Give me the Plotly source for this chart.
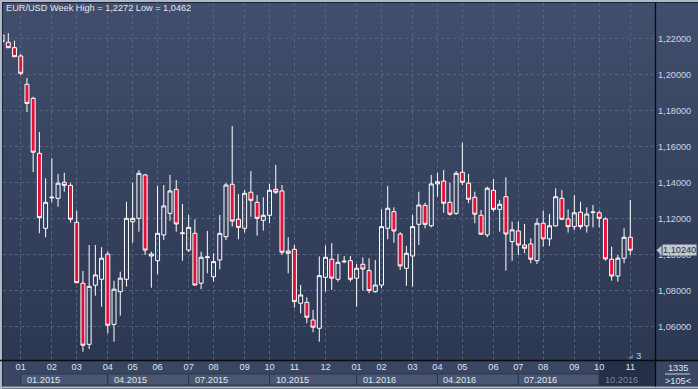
import plotly.graph_objects as go

# ---------------- data ----------------
title_text = "EUR/USD Week High = 1,2272 Low = 1,0462"

week_index = list(range(102))
opens = [1.2218, 1.2178, 1.2148, 1.2102, 1.1945, 1.1867, 1.1562, 1.1146, 1.1315, 1.1312,
         1.1401, 1.1384, 1.1179, 1.0841, 1.0502, 1.0830, 1.0863, 1.1002, 1.0613, 1.0794,
         1.0863, 1.1182, 1.1201, 1.1442, 1.1003, 1.0966, 1.1109, 1.1229, 1.1362, 1.1116,
         1.1025, 1.1118, 1.0841, 1.0983, 1.0877, 1.0970, 1.1099, 1.1390, 1.1196, 1.1146,
         1.1346, 1.1290, 1.1190, 1.1218, 1.1362, 1.1353, 1.1020, 1.1029, 1.0730, 1.0735,
         1.0637, 1.0591, 1.0874, 1.0974, 1.0863, 1.0960, 1.0966, 1.0869, 1.0946, 1.0911,
         1.0794, 1.0831, 1.1146, 1.1238, 1.1114, 1.0924, 1.0992, 1.1168, 1.1273, 1.1160,
         1.1392, 1.1408, 1.1290, 1.1229, 1.1457, 1.1396, 1.1318, 1.1218, 1.1109, 1.1357,
         1.1251, 1.1321, 1.1072, 1.1131, 1.1053, 1.1059, 1.0966, 1.1174, 1.1087, 1.1159,
         1.1312, 1.1198, 1.1155, 1.1235, 1.1159, 1.1233, 1.1232, 1.1198, 1.0974, 1.0881,
         1.0980, 1.1096]
highs = [1.2235, 1.2229, 1.2187, 1.2113, 1.1980, 1.1876, 1.1680, 1.1423, 1.1534, 1.1447,
         1.1454, 1.1396, 1.1244, 1.0909, 1.1053, 1.1053, 1.1041, 1.1016, 1.0855, 1.0905,
         1.1293, 1.1399, 1.1469, 1.1447, 1.1016, 1.1381, 1.1386, 1.1442, 1.1414, 1.1281,
         1.1220, 1.1196, 1.1016, 1.1131, 1.1007, 1.1220, 1.1397, 1.1713, 1.1336, 1.1358,
         1.1464, 1.1331, 1.1318, 1.1392, 1.1497, 1.1386, 1.1096, 1.1053, 1.0831, 1.0763,
         1.0693, 1.0990, 1.1050, 1.1063, 1.1003, 1.0992, 1.0992, 1.0948, 1.0985, 1.0980,
         1.0970, 1.1251, 1.1381, 1.1262, 1.1124, 1.1048, 1.1220, 1.1349, 1.1288, 1.1442,
         1.1454, 1.1469, 1.1399, 1.1464, 1.1621, 1.1447, 1.1349, 1.1247, 1.1377, 1.1418,
         1.1303, 1.1429, 1.1183, 1.1183, 1.1170, 1.1090, 1.1201, 1.1244, 1.1225, 1.1368,
         1.1358, 1.1251, 1.1329, 1.1293, 1.1262, 1.1275, 1.1244, 1.1207, 1.1044, 1.0998,
         1.1146, 1.1303]
lows = [1.2163, 1.2146, 1.2096, 1.1996, 1.1791, 1.1457, 1.1118, 1.1096, 1.1290, 1.1266,
        1.1349, 1.1177, 1.0841, 1.0461, 1.0476, 1.0772, 1.0711, 1.0563, 1.0517, 1.0661,
        1.0822, 1.1066, 1.1127, 1.0998, 1.0816, 1.0891, 1.1081, 1.1188, 1.1127, 1.0966,
        1.1014, 1.0827, 1.0808, 1.0896, 1.0850, 1.0918, 1.1081, 1.1155, 1.1085, 1.1122,
        1.1210, 1.1105, 1.1133, 1.1174, 1.1336, 1.0998, 1.0896, 1.0705, 1.0674, 1.0619,
        1.0569, 1.0517, 1.0794, 1.0804, 1.0850, 1.0952, 1.0850, 1.0711, 1.0800, 1.0785,
        1.0789, 1.0813, 1.1085, 1.1066, 1.0915, 1.0826, 1.0822, 1.1053, 1.1146, 1.1151,
        1.1321, 1.1232, 1.1216, 1.1220, 1.1386, 1.1285, 1.1174, 1.1109, 1.1096, 1.1238,
        1.1127, 1.0911, 1.0966, 1.0998, 1.1007, 1.0952, 1.0948, 1.1044, 1.1048, 1.1155,
        1.1192, 1.1122, 1.1136, 1.1140, 1.1122, 1.1151, 1.1151, 1.0966, 1.0855, 1.0850,
        1.0952, 1.0998]
closes = [1.2181, 1.2148, 1.2098, 1.2006, 1.1839, 1.1568, 1.1205, 1.1290, 1.1318, 1.1396,
          1.1384, 1.1196, 1.0844, 1.0497, 1.0824, 1.0887, 1.0980, 1.0608, 1.0808, 1.0869,
          1.1201, 1.1201, 1.1451, 1.1025, 1.0992, 1.1118, 1.1270, 1.1353, 1.1170, 1.1120,
          1.1151, 1.0831, 1.0985, 1.0987, 1.0961, 1.1118, 1.1386, 1.1186, 1.1151, 1.1340,
          1.1301, 1.1201, 1.1218, 1.1357, 1.1346, 1.1013, 1.1007, 1.0739, 1.0776, 1.0652,
          1.0597, 1.0883, 1.0985, 1.0869, 1.0957, 1.0963, 1.0863, 1.0924, 1.0920, 1.0800,
          1.0831, 1.1155, 1.1257, 1.1131, 1.0937, 1.1007, 1.1155, 1.1275, 1.1168, 1.1392,
          1.1404, 1.1285, 1.1224, 1.1451, 1.1401, 1.1307, 1.1224, 1.1113, 1.1368, 1.1251,
          1.1279, 1.1114, 1.1137, 1.1053, 1.1035, 1.0974, 1.1174, 1.1087, 1.1160, 1.1321,
          1.1196, 1.1155, 1.1232, 1.1155, 1.1225, 1.1236, 1.1201, 1.0976, 1.0881, 1.0980,
          1.1096, 1.1024]

month_idx = [3, 8, 12, 17, 21, 25, 30, 34, 39, 43, 47, 52, 57, 61, 66, 70, 74, 79, 83, 87, 92, 96, 101]
month_labels = ["01", "02", "03", "04", "05", "06", "07", "08", "09", "10", "11", "12",
                "01", "02", "03", "04", "05", "06", "07", "08", "09", "10", "11"]
quarter_idx = [3, 17, 30, 43, 57, 70, 83, 96]
quarter_labels = ["01.2015", "04.2015", "07.2015", "10.2015", "01.2016", "04.2016", "07.2016", "10.2016"]
y_ticks = [1.06, 1.08, 1.10, 1.12, 1.14, 1.16, 1.18, 1.20, 1.22]
corner_top = "1335"
corner_bottom = ">105<"
bar_counter = "3"

# ---------------- layout geometry ----------------
W, H = 698, 389
ML, MR, MT, MB = 3, 43, 3, 29
PW, PH = W - ML - MR, H - MT - MB
X_RANGE = [0.15, 104.97]
Y_RANGE = [1.0415, 1.2396]
FONT = "Liberation Sans, Arial, sans-serif"


def px_x(px):
    return (px - ML) / PW


def px_y(py):
    return (H - MB - py) / PH


def data_x(i):
    return (i - X_RANGE[0]) / (X_RANGE[1] - X_RANGE[0])


def data_y(v):
    return (v - Y_RANGE[0]) / (Y_RANGE[1] - Y_RANGE[0])


shapes = []
# vertical gradient background
top_c = (65, 79, 108)
bot_c = (43, 54, 80)
N = 50
for k in range(N):
    t = k / (N - 1)
    c = tuple(int(round(top_c[j] + (bot_c[j] - top_c[j]) * t)) for j in range(3))
    y_top = H * k / N
    y_bot = H * (k + 1) / N + 0.6
    shapes.append(dict(type="rect", xref="paper", yref="paper", layer="below",
                       x0=px_x(0), x1=px_x(W), y0=px_y(y_bot), y1=px_y(y_top),
                       fillcolor="rgb(%d,%d,%d)" % c, line=dict(width=0)))

# bottom axis strip
shapes.append(dict(type="rect", xref="paper", yref="paper", layer="below",
                   x0=px_x(0), x1=px_x(W), y0=px_y(386), y1=px_y(360),
                   fillcolor="#3a4561", line=dict(width=0)))
# quarter boxes
for i, q in enumerate(quarter_idx):
    x0 = data_x(q)
    last = i == len(quarter_idx) - 1
    x1 = 1.0 if last else data_x(quarter_idx[i + 1])
    shapes.append(dict(type="rect", xref="paper", yref="paper", layer="below",
                       x0=x0, x1=x1,
                       y0=px_y(386 if last else 385), y1=px_y(361 if last else 374),
                       fillcolor="#252f46" if last else "#4b5672",
                       line=dict(width=1, color="#2c364d")))

# frame lines
shapes += [
    dict(type="line", xref="paper", yref="paper", x0=px_x(0), x1=px_x(W), y0=px_y(1), y1=px_y(1),
         line=dict(color="#aeb8c8", width=2)),
    dict(type="line", xref="paper", yref="paper", x0=px_x(0), x1=px_x(W), y0=px_y(2.5), y1=px_y(2.5),
         line=dict(color="#1c2436", width=1)),
    dict(type="line", xref="paper", yref="paper", x0=px_x(1), x1=px_x(1), y0=px_y(0), y1=px_y(H),
         line=dict(color="#aeb8c8", width=2)),
    dict(type="line", xref="paper", yref="paper", x0=px_x(2.5), x1=px_x(2.5), y0=px_y(2), y1=px_y(386),
         line=dict(color="#1c2436", width=1)),
    dict(type="line", xref="paper", yref="paper", x0=px_x(0), x1=px_x(W), y0=px_y(387.5), y1=px_y(387.5),
         line=dict(color="#b4bccb", width=2)),
    dict(type="line", xref="paper", yref="paper", x0=px_x(0), x1=px_x(W), y0=px_y(360.5), y1=px_y(360.5),
         line=dict(color="#080b12", width=1.3)),
    dict(type="line", xref="paper", yref="paper", x0=px_x(655.5), x1=px_x(655.5), y0=px_y(3), y1=px_y(386.5),
         line=dict(color="#080b12", width=1.3)),
    dict(type="line", xref="paper", yref="paper", x0=px_x(665), x1=px_x(690), y0=px_y(374), y1=px_y(374),
         line=dict(color="#c6cedb", width=1)),
]
# small marker next to bar counter
shapes.append(dict(type="path", xref="paper", yref="paper",
                   path="M %f,%f L %f,%f L %f,%f Z" % (px_x(627), px_y(358.5), px_x(633), px_y(358.5),
                                                      px_x(633), px_y(354.5)),
                   fillcolor="#6d7992", line=dict(width=0)))
# price tag arrow
last_close = closes[-1]
ty = data_y(last_close)
dy = 4.5 / PH
shapes.append(dict(type="path", xref="paper", yref="paper",
                   path="M %f,%f L %f,%f L %f,%f Z" % (px_x(656.5), ty, px_x(661.5), ty + dy,
                                                      px_x(661.5), ty - dy),
                   fillcolor="#c3c7cf", line=dict(width=0)))

annotations = [
    dict(text=title_text, xref="paper", yref="paper", x=px_x(4), y=px_y(8.5),
         xanchor="left", yanchor="middle", showarrow=False,
         font=dict(family=FONT, size=9.2, color="#e2e8f2")),
    dict(text=bar_counter, xref="paper", yref="paper", x=px_x(638), y=px_y(355),
         xanchor="center", yanchor="middle", showarrow=False,
         font=dict(family=FONT, size=9.5, color="#c0c8d6")),
    dict(text=corner_top, xref="paper", yref="paper", x=px_x(677.5), y=px_y(367.5),
         xanchor="center", yanchor="middle", showarrow=False,
         font=dict(family=FONT, size=9.2, color="#dfe5ee")),
    dict(text=corner_bottom, xref="paper", yref="paper", x=px_x(677.5), y=px_y(380.5),
         xanchor="center", yanchor="middle", showarrow=False,
         font=dict(family=FONT, size=9.2, color="#dfe5ee")),
    dict(text=("%.5f" % last_close).replace(".", ","), xref="paper", yref="paper",
         x=px_x(661.5), y=ty, xanchor="left", yanchor="middle", showarrow=False,
         bgcolor="#c3c7cf", borderpad=0,
         font=dict(family=FONT, size=9.2, color="#262d3c")),
]
for i, (q, lab) in enumerate(zip(quarter_idx, quarter_labels)):
    last = i == len(quarter_idx) - 1
    annotations.append(dict(text=lab, xref="paper", yref="paper",
                            x=data_x(q) + 4.0 / PW, y=px_y(379.5),
                            xanchor="left", yanchor="middle", showarrow=False,
                            font=dict(family=FONT, size=9.2,
                                      color="#7c889e" if last else "#dfe6f0")))

fig = go.Figure(go.Candlestick(
    x=week_index, open=opens, high=highs, low=lows, close=closes,
    increasing=dict(line=dict(color="#ffffff", width=1), fillcolor="rgba(0,0,0,0)"),
    decreasing=dict(line=dict(color="#ffffff", width=1), fillcolor="#e3103a"),
    whiskerwidth=0, showlegend=False, hoverinfo="skip",
))

grid = dict(showgrid=True, gridcolor="#56647f", gridwidth=1, griddash="3px,3px",
            zeroline=False, showline=False, ticks="", fixedrange=True)

fig.update_layout(
    width=W, height=H,
    margin=dict(l=ML, r=MR, t=MT, b=MB, pad=0),
    paper_bgcolor="#36425d", plot_bgcolor="rgba(0,0,0,0)",
    separators=",.",
    boxgap=0.36, boxgroupgap=0,
    shapes=shapes, annotations=annotations,
    xaxis=dict(range=X_RANGE, tickmode="array", tickvals=month_idx, ticktext=month_labels,
               tickfont=dict(family=FONT, size=9.2, color="#dbe4f2"),
               rangeslider=dict(visible=False), **grid),
    yaxis=dict(range=Y_RANGE, side="right", tickmode="array", tickvals=y_ticks,
               tickformat=".5f", ticklabelstandoff=2,
               tickfont=dict(family=FONT, size=9.2, color="#c8d6ec"), **grid),
    font=dict(family=FONT),
)

fig.write_html("out.html", config={"displayModeBar": False},
               post_script="document.body.style.margin='0';document.body.style.overflow='hidden';")
